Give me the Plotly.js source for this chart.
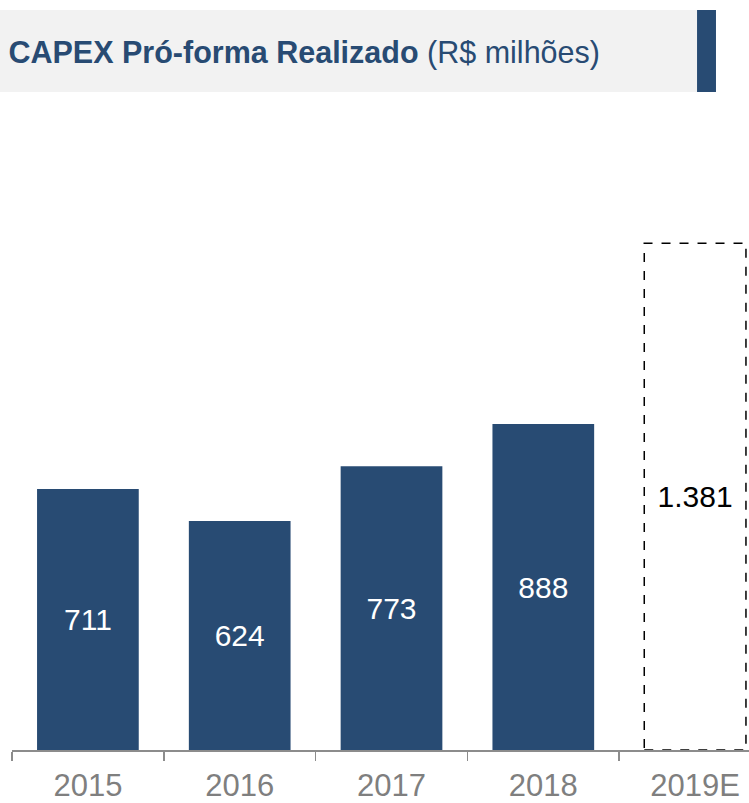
<!DOCTYPE html>
<html>
<head>
<meta charset="utf-8">
<script src="https://cdn.plot.ly/plotly-3.0.1.min.js"></script>
<style>
  html, body { margin: 0; padding: 0; background: #ffffff; }
  #chart { width: 749px; height: 803px; }
</style>
</head>
<body>
<div id="chart"></div>
<script>
// ---- data ----
const categories = ["2015", "2016", "2017", "2018", "2019E"];
const realizedYears = ["2015", "2016", "2017", "2018"];
const realizedValues = [711, 624, 773, 888];
const estimateYears = ["2019E"];
const estimateValues = [1381];

const navy = "#284b73";
const barWidth = 0.67;

const traces = [
  {
    type: "bar",
    x: realizedYears,
    y: realizedValues,
    width: barWidth,
    marker: { color: navy, line: { width: 0 } },
    texttemplate: "%{y:,.0f}",
    textposition: "inside",
    insidetextanchor: "middle",
    textfont: { family: "Liberation Sans, Arial, sans-serif", size: 30, color: "#ffffff" },
    hoverinfo: "x+y",
    cliponaxis: false
  },
  {
    type: "bar",
    x: estimateYears,
    y: estimateValues,
    width: barWidth,
    marker: { color: "rgba(255,255,255,0.95)", line: { width: 0 } },
    texttemplate: "%{y:,.0f}",
    textposition: "inside",
    insidetextanchor: "middle",
    textfont: { family: "Liberation Sans, Arial, sans-serif", size: 30, color: "#000000" },
    hoverinfo: "x+y",
    cliponaxis: false
  }
];

// dashed outline for the estimate bar, built from the data
const shapes = [];
estimateYears.forEach((yr, i) => {
  const idx = categories.indexOf(yr);
  shapes.push({
    type: "rect", xref: "x", yref: "y",
    x0: idx - barWidth / 2, x1: idx + barWidth / 2,
    y0: 0, y1: estimateValues[i],
    line: { color: "#000000", width: 1.5, dash: "dash" },
    fillcolor: "rgba(0,0,0,0)",
    layer: "above"
  });
});

// title band
shapes.push({
  type: "rect", xref: "paper", yref: "paper",
  x0: -0.0163, x1: 0.9295, y0: 1.0123, y1: 1.1385,
  line: { width: 0 }, fillcolor: "#f2f2f2", layer: "below"
});
shapes.push({
  type: "rect", xref: "paper", yref: "paper",
  x0: 0.9295, x1: 0.9552, y0: 1.0123, y1: 1.1385,
  line: { width: 0 }, fillcolor: navy, layer: "below"
});

const layout = {
  width: 749,
  height: 803,
  margin: { l: 12, r: 0, t: 100, b: 53, pad: 0 },
  paper_bgcolor: "#ffffff",
  plot_bgcolor: "rgba(0,0,0,0)",
  separators: ",.",
  barmode: "overlay",
  showlegend: false,
  font: { family: "Liberation Sans, Arial, sans-serif" },
  title: {
    text: "<b>CAPEX Pró-forma Realizado</b> (R$ milhões)",
    font: { family: "Liberation Sans, Arial, sans-serif", size: 30.5, color: navy },
    xref: "container", yref: "container",
    x: 0.801, xanchor: "right",
    y: 0.935, yanchor: "middle"
  },
  xaxis: {
    type: "category",
    categoryorder: "array",
    categoryarray: categories,
    range: [-0.5, 4.355],
    showline: true,
    linecolor: "#8c8c8c",
    linewidth: 2,
    ticks: "outside",
    tickson: "boundaries",
    ticklen: 9,
    tickwidth: 1.5,
    tickcolor: "#8c8c8c",
    ticklabelstandoff: 7,
    tickfont: { family: "Liberation Sans, Arial, sans-serif", size: 31, color: "#7f7f7f" },
    showgrid: false,
    zeroline: false,
    fixedrange: true
  },
  yaxis: {
    range: [0, 1771],
    visible: false,
    showgrid: false,
    zeroline: false,
    fixedrange: true
  },
  shapes: shapes
};

Plotly.newPlot("chart", traces, layout, { displayModeBar: false, staticPlot: true });
</script>
</body>
</html>
